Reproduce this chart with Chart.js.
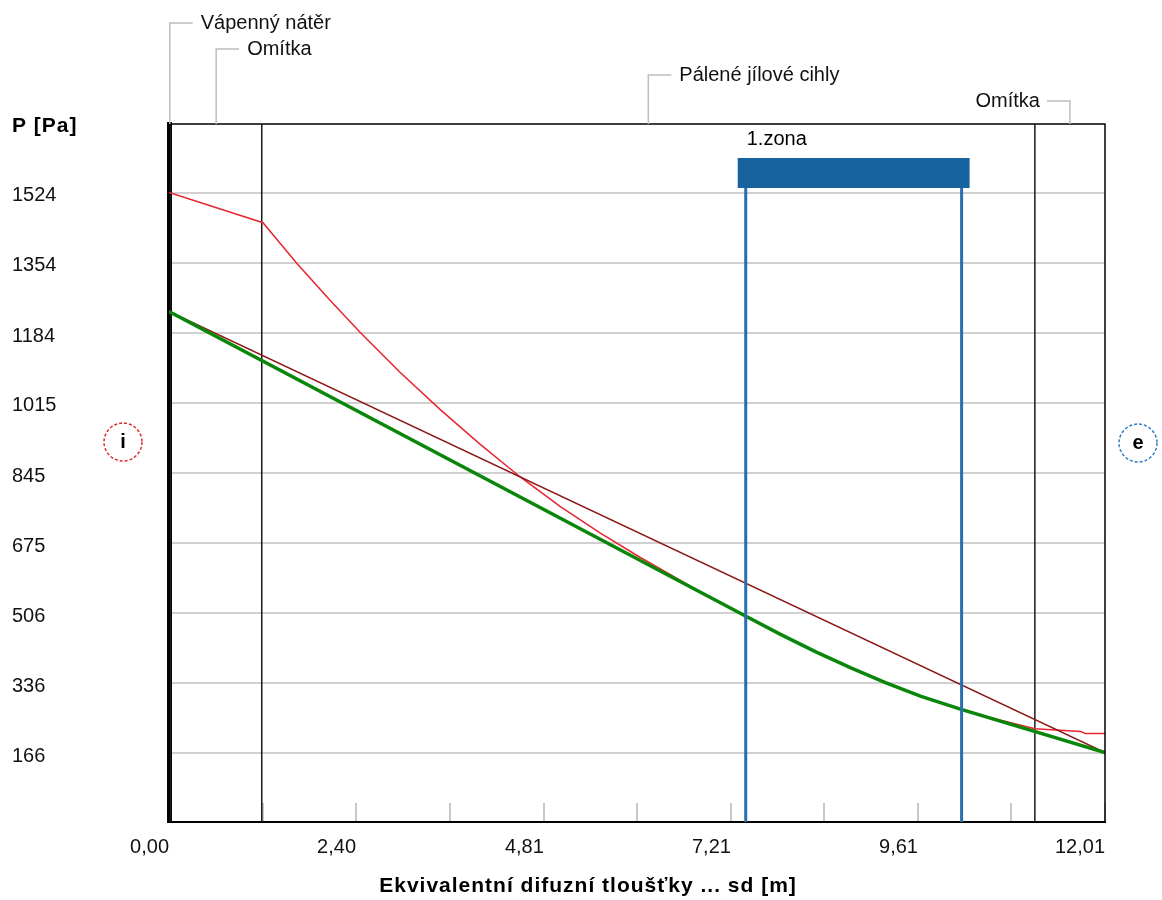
<!DOCTYPE html>
<html>
<head>
<meta charset="utf-8">
<script src="https://cdn.jsdelivr.net/npm/chart.js@4"></script>
<style>
  html, body { margin: 0; padding: 0; background: #fff; }
</style>
</head>
<body>
<canvas id="chart" width="1162" height="900"></canvas>
<script>
const FONT = '"Liberation Sans", Arial, sans-serif';

// axis ticks
const xTickValues = [0, 1.20, 2.40, 3.60, 4.81, 6.01, 7.21, 8.41, 9.61, 10.81, 12.01];
const xTickLabels = ['0,00', '', '2,40', '', '4,81', '', '7,21', '', '9,61', '', '12,01'];
const yTickValues = [166, 336, 506, 675, 845, 1015, 1184, 1354, 1524];

// layers of the wall (sd boundaries in m)
const layerNames = ['Vápenný nátěr', 'Omítka', 'Pálené jílové cihly', 'Omítka'];
const layerBounds = [0, 0.02, 1.19, 11.11, 12.01];

// condensation zone
const zoneName = '1.zona';
const zoneRange = [7.40, 10.17];

// saturation pressure (red)
const psatX = [0, 1.206, 1.642, 2.066, 2.451, 2.964, 3.477, 3.990, 4.503, 5.017, 5.530, 6.043, 6.518, 6.813, 7.403,
               7.84, 8.30, 8.75, 9.20, 9.65, 10.175, 10.66, 11.11, 11.70, 11.76, 12.01];
const psatY = [1524, 1451, 1352, 1263, 1186, 1089, 999, 915, 836, 764, 700, 641, 590, 557, 498,
               455, 412, 373, 337, 304, 272, 247, 226, 219, 214, 214];

// partial pressure with condensation (green)
const pX = [0, 7.403, 7.84, 8.30, 8.75, 9.20, 9.65, 10.175, 12.01];
const pY = [1236, 498, 455, 412, 373, 337, 304, 272, 168];

// partial pressure without condensation (dark red)
const p0X = [0, 12.01];
const p0Y = [1236, 168];

const yMin = 0, yMax = 1690;

function pts(xs, ys) { return xs.map((x, i) => ({ x: x, y: ys[i] })); }

const layerLines = layerBounds.slice(1, -1).map(b => ({
  data: [{ x: b, y: yMin }, { x: b, y: yMax }],
  borderColor: '#1a1a1a',
  borderWidth: 1.5
}));

const decor = {
  id: 'decor',
  afterDatasetsDraw(chart) {
    const { ctx, chartArea: a, scales: { x } } = chart;
    const x0 = x.getPixelForValue(zoneRange[0]);
    const x1 = x.getPixelForValue(zoneRange[1]);
    ctx.save();
    ctx.strokeStyle = '#2a6db0';
    ctx.lineWidth = 3;
    [x0, x1].forEach(px => {
      ctx.beginPath();
      ctx.moveTo(px, a.top + 60);
      ctx.lineTo(px, a.bottom);
      ctx.stroke();
    });
    ctx.fillStyle = '#17639f';
    ctx.fillRect(x0 - 8, a.top + 34, x1 - x0 + 16, 30);
    ctx.fillStyle = '#000';
    ctx.font = '20px ' + FONT;
    ctx.textBaseline = 'middle';
    ctx.textAlign = 'left';
    ctx.fillText(zoneName, x0 + 1, a.top + 15);
    ctx.restore();
  },
  afterDraw(chart) {
    const { ctx, chartArea: a, scales: { x } } = chart;
    ctx.save();
    // top + right frame
    ctx.strokeStyle = '#000';
    ctx.lineWidth = 1.5;
    ctx.beginPath();
    ctx.moveTo(a.left, a.top);
    ctx.lineTo(a.right, a.top);
    ctx.lineTo(a.right, a.bottom);
    ctx.stroke();

    // layer name leaders
    ctx.font = '20px ' + FONT;
    ctx.textBaseline = 'middle';
    layerNames.forEach((name, i) => {
      const mid = x.getPixelForValue((layerBounds[i] + layerBounds[i + 1]) / 2);
      const ly = a.top - 101 + 26 * i;
      const w = ctx.measureText(name).width;
      const toLeft = mid + 30 + w > chart.width - 10;
      ctx.strokeStyle = '#bdbdbd';
      ctx.lineWidth = 1.5;
      ctx.beginPath();
      ctx.moveTo(mid, a.top);
      ctx.lineTo(mid, ly);
      ctx.lineTo(toLeft ? mid - 23 : mid + 23, ly);
      ctx.stroke();
      ctx.fillStyle = '#111';
      ctx.textAlign = toLeft ? 'right' : 'left';
      ctx.fillText(name, toLeft ? mid - 30 : mid + 31, ly);
    });

    // axis titles
    ctx.fillStyle = '#000';
    ctx.font = 'bold 21px ' + FONT;
    ctx.letterSpacing = '1px';
    ctx.textAlign = 'left';
    ctx.fillText('P [Pa]', 12, a.top + 2);
    ctx.textAlign = 'center';
    ctx.fillText('Ekvivalentní difuzní tloušťky ... sd [m]', 588, 886);
    ctx.letterSpacing = '0px';

    // interior / exterior markers
    const marks = [
      { cx: a.left - 46, cy: a.top + 318, c: '#e02828', t: 'i' },
      { cx: a.right + 33, cy: a.top + 319, c: '#2f7cc4', t: 'e' }
    ];
    marks.forEach(m => {
      ctx.strokeStyle = m.c;
      ctx.lineWidth = 1.5;
      ctx.setLineDash([3, 2]);
      ctx.beginPath();
      ctx.arc(m.cx, m.cy, 19, 0, Math.PI * 2);
      ctx.stroke();
      ctx.setLineDash([]);
      ctx.fillStyle = '#000';
      ctx.font = 'bold 20px ' + FONT;
      ctx.textAlign = 'center';
      ctx.fillText(m.t, m.cx, m.cy);
    });
    ctx.restore();
  }
};

new Chart(document.getElementById('chart').getContext('2d'), {
  type: 'scatter',
  data: {
    datasets: [
      { data: pts(pX, pY), borderColor: '#0a870a', borderWidth: 3.5 },
      { data: pts(p0X, p0Y), borderColor: '#8a1414', borderWidth: 1.5 },
      { data: pts(psatX, psatY), borderColor: '#e82430', borderWidth: 1.5 },
      ...layerLines
    ].map(d => Object.assign({ showLine: true, pointRadius: 0, fill: false, tension: 0 }, d))
  },
  options: {
    responsive: false,
    animation: false,
    events: [],
    layout: { padding: { left: 12, top: 124, right: 57, bottom: 0 } },
    plugins: { legend: { display: false }, tooltip: { enabled: false } },
    scales: {
      x: {
        type: 'linear',
        min: 0,
        max: 12.01,
        afterFit(s) { s.height = 78; },
        afterBuildTicks(s) { s.ticks = xTickValues.map(v => ({ value: v })); },
        grid: { drawOnChartArea: false, drawTicks: true, tickLength: -19, color: '#c8c8c8', lineWidth: 2 },
        border: { color: '#000', width: 2 },
        ticks: {
          autoSkip: false,
          maxRotation: 0,
          align: 'end',
          padding: 32,
          color: '#111',
          font: { family: FONT, size: 20 },
          callback: (v, i) => xTickLabels[i]
        }
      },
      y: {
        type: 'linear',
        min: yMin,
        max: yMax,
        afterFit(s) { s.width = 157; },
        afterBuildTicks(s) { s.ticks = yTickValues.map(v => ({ value: v })); },
        grid: { drawTicks: false, color: '#d0d0d0', lineWidth: 2 },
        border: { color: '#000', width: 5 },
        ticks: {
          crossAlign: 'far',
          labelOffset: 3,
          color: '#111',
          font: { family: FONT, size: 20 },
          callback: v => String(v)
        }
      }
    }
  },
  plugins: [decor]
});
</script>
</body>
</html>
